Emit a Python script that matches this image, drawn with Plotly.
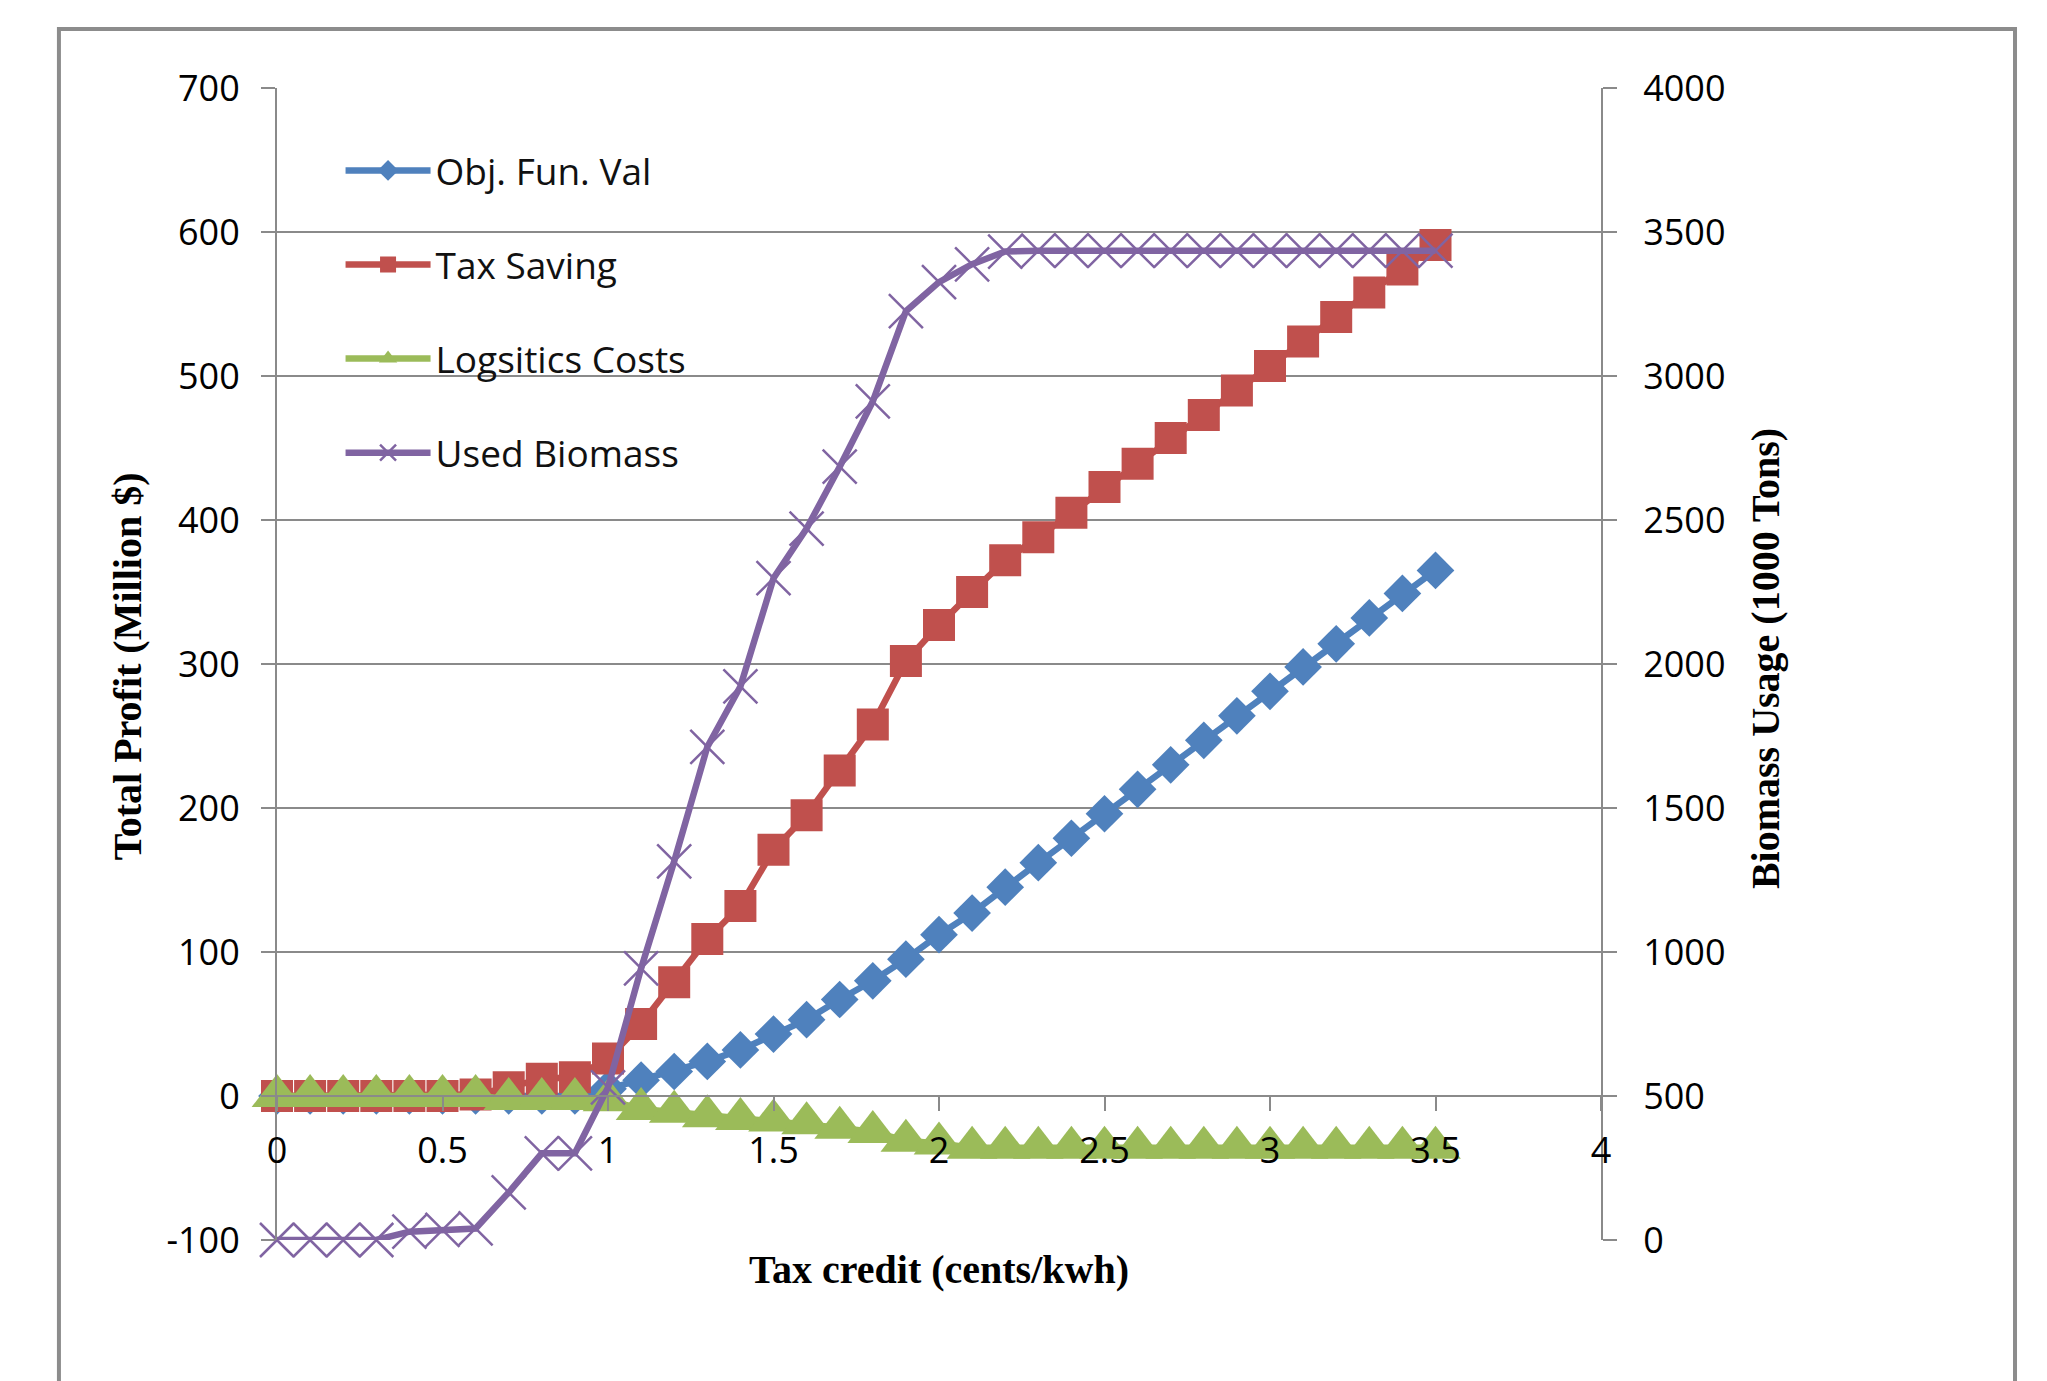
import plotly.graph_objects as go

# Tax credit levels (cents/kwh)
tax_credit = [0.0, 0.1, 0.2, 0.3, 0.4, 0.5, 0.6, 0.7, 0.8, 0.9,
              1.0, 1.1, 1.2, 1.3, 1.4, 1.5, 1.6, 1.7, 1.8, 1.9,
              2.0, 2.1, 2.2, 2.3, 2.4, 2.5, 2.6, 2.7, 2.8, 2.9,
              3.0, 3.1, 3.2, 3.3, 3.4, 3.5]

# Million $ (left axis)
obj_fun_val = [0, 0, 0, 0, 0, 0, 0, 0, 0, 0,
               5, 11, 17, 24, 32, 43, 53, 67, 80, 95,
               112, 127, 145, 162, 179, 196, 213, 230, 247, 264,
               281, 298, 314, 332, 349, 365]
tax_saving = [0, 0, 0, 0, 0, 0, 1, 6, 12, 13,
              26, 50, 79, 109, 132, 171, 195, 226, 258, 302,
              327, 350, 372, 388, 405, 423, 439, 457, 473, 490,
              507, 524, 541, 558, 574, 591]
logistics_costs = [0, 0, 0, 0, 0, 0, 0, -2, -2, -2,
                   -3, -9, -11, -14, -16, -17, -19, -22, -25, -31,
                   -33, -36, -36, -36, -36, -36, -36, -36, -36, -36,
                   -36, -36, -36, -36, -36, -36]

# 1000 Tons (right axis)
used_biomass = [0, 0, 0, 0, 29, 35, 40, 165, 301, 301,
                530, 943, 1315, 1712, 1922, 2298, 2470, 2685, 2912, 3225,
                3326, 3388, 3432, 3435, 3435, 3435, 3435, 3435, 3435, 3435,
                3435, 3435, 3435, 3435, 3435, 3435]

x_ticks = [0, 0.5, 1, 1.5, 2, 2.5, 3, 3.5, 4]
x_tick_text = ["0", "0.5", "1", "1.5", "2", "2.5", "3", "3.5", "4"]
profit_ticks = [-100, 0, 100, 200, 300, 400, 500, 600, 700]
profit_tick_text = ["-100", "0", "100", "200", "300", "400", "500", "600", "700"]
biomass_ticks = [0, 500, 1000, 1500, 2000, 2500, 3000, 3500, 4000]
biomass_tick_text = ["0", "500", "1000", "1500", "2000", "2500", "3000", "3500", "4000"]

BLUE = "#4F81BD"
RED = "#C0504D"
GREEN = "#9BBB59"
PURPLE = "#8064A2"
GRID = "#8a8a8a"
TICK_FONT = dict(family="Open Sans", size=36, color="#000000")
TITLE_FONT = dict(family="Liberation Serif", size=40, color="#000000")

fig = go.Figure()

fig.add_trace(go.Scatter(
    x=tax_credit, y=obj_fun_val, name="Obj. Fun. Val", legendgroup="a",
    mode="lines+markers", cliponaxis=False,
    line=dict(color=BLUE, width=6.5),
    marker=dict(symbol="diamond", size=29, color=BLUE),
))
fig.add_trace(go.Scatter(
    x=tax_credit, y=tax_saving, name="Tax Saving", legendgroup="b",
    mode="lines+markers", cliponaxis=False,
    line=dict(color=RED, width=6.5),
    marker=dict(symbol="square", size=32, color=RED),
))
fig.add_trace(go.Scatter(
    x=tax_credit, y=logistics_costs, name="Logsitics Costs", legendgroup="c",
    mode="lines+markers", cliponaxis=False,
    line=dict(color=GREEN, width=6.5),
    marker=dict(symbol="triangle-up", size=44, color=GREEN),
))
fig.add_trace(go.Scatter(
    x=tax_credit, y=used_biomass, name="Used Biomass", legendgroup="d",
    mode="lines+markers", cliponaxis=False, yaxis="y2",
    line=dict(color=PURPLE, width=6.5),
    marker=dict(symbol="x-thin", size=34, color=PURPLE,
                line=dict(color=PURPLE, width=2.5)),
))

fig.update_layout(
    width=2047, height=1381,
    margin=dict(l=277, r=446, t=88, b=141),
    paper_bgcolor="white", plot_bgcolor="white",
    showlegend=True,
    legend=dict(
        x=0.048, y=0.955, xanchor="left", yanchor="top",
        font=dict(family="Open Sans", size=37, color="#111111"),
        itemwidth=85, tracegroupgap=43,
        bgcolor="rgba(0,0,0,0)",
    ),
    xaxis=dict(
        range=[0, 4], anchor="free", position=0.125,
        tickvals=x_ticks, ticktext=x_tick_text,
        showgrid=False, zeroline=False,
        showline=True, linecolor=GRID, linewidth=2,
        ticks="outside", ticklen=14, tickwidth=2, tickcolor=GRID,
        tickfont=TICK_FONT, ticklabelstandoff=9,
    ),
    yaxis=dict(
        range=[-100, 700], tickvals=profit_ticks, ticktext=profit_tick_text,
        showgrid=True, gridcolor=GRID, gridwidth=2,
        zeroline=False,
        showline=True, linecolor=GRID, linewidth=2,
        ticks="outside", ticklen=14, tickwidth=2, tickcolor=GRID,
        tickfont=TICK_FONT, ticklabelstandoff=14,
    ),
    yaxis2=dict(
        range=[0, 4000], tickvals=biomass_ticks, ticktext=biomass_tick_text,
        overlaying="y", side="right",
        showgrid=False, zeroline=False,
        showline=True, linecolor=GRID, linewidth=2,
        ticks="outside", ticklen=14, tickwidth=2, tickcolor=GRID,
        tickfont=TICK_FONT, ticklabelstandoff=19,
    ),
    shapes=[dict(
        type="rect", xref="paper", yref="paper",
        x0=-0.1647, x1=1.3127, y0=-0.3, y1=1.0512,
        line=dict(color="#8c8c8c", width=4), layer="below",
    )],
    annotations=[
        dict(text="<b>Tax credit (cents/kwh)</b>", xref="paper", yref="paper",
             x=0.5, y=-0.026, xanchor="center", yanchor="middle",
             showarrow=False, font=TITLE_FONT),
        dict(text="<b>Total Profit (Million $)</b>", xref="paper", yref="paper",
             x=-0.1133, y=0.498, xanchor="center", yanchor="middle",
             textangle=-90, showarrow=False, font=TITLE_FONT),
        dict(text="<b>Biomass Usage (1000 Tons)</b>", xref="paper", yref="paper",
             x=1.1239, y=0.5043, xanchor="center", yanchor="middle",
             textangle=-90, showarrow=False, font=TITLE_FONT),
    ],
)

fig.write_html("out.html")
